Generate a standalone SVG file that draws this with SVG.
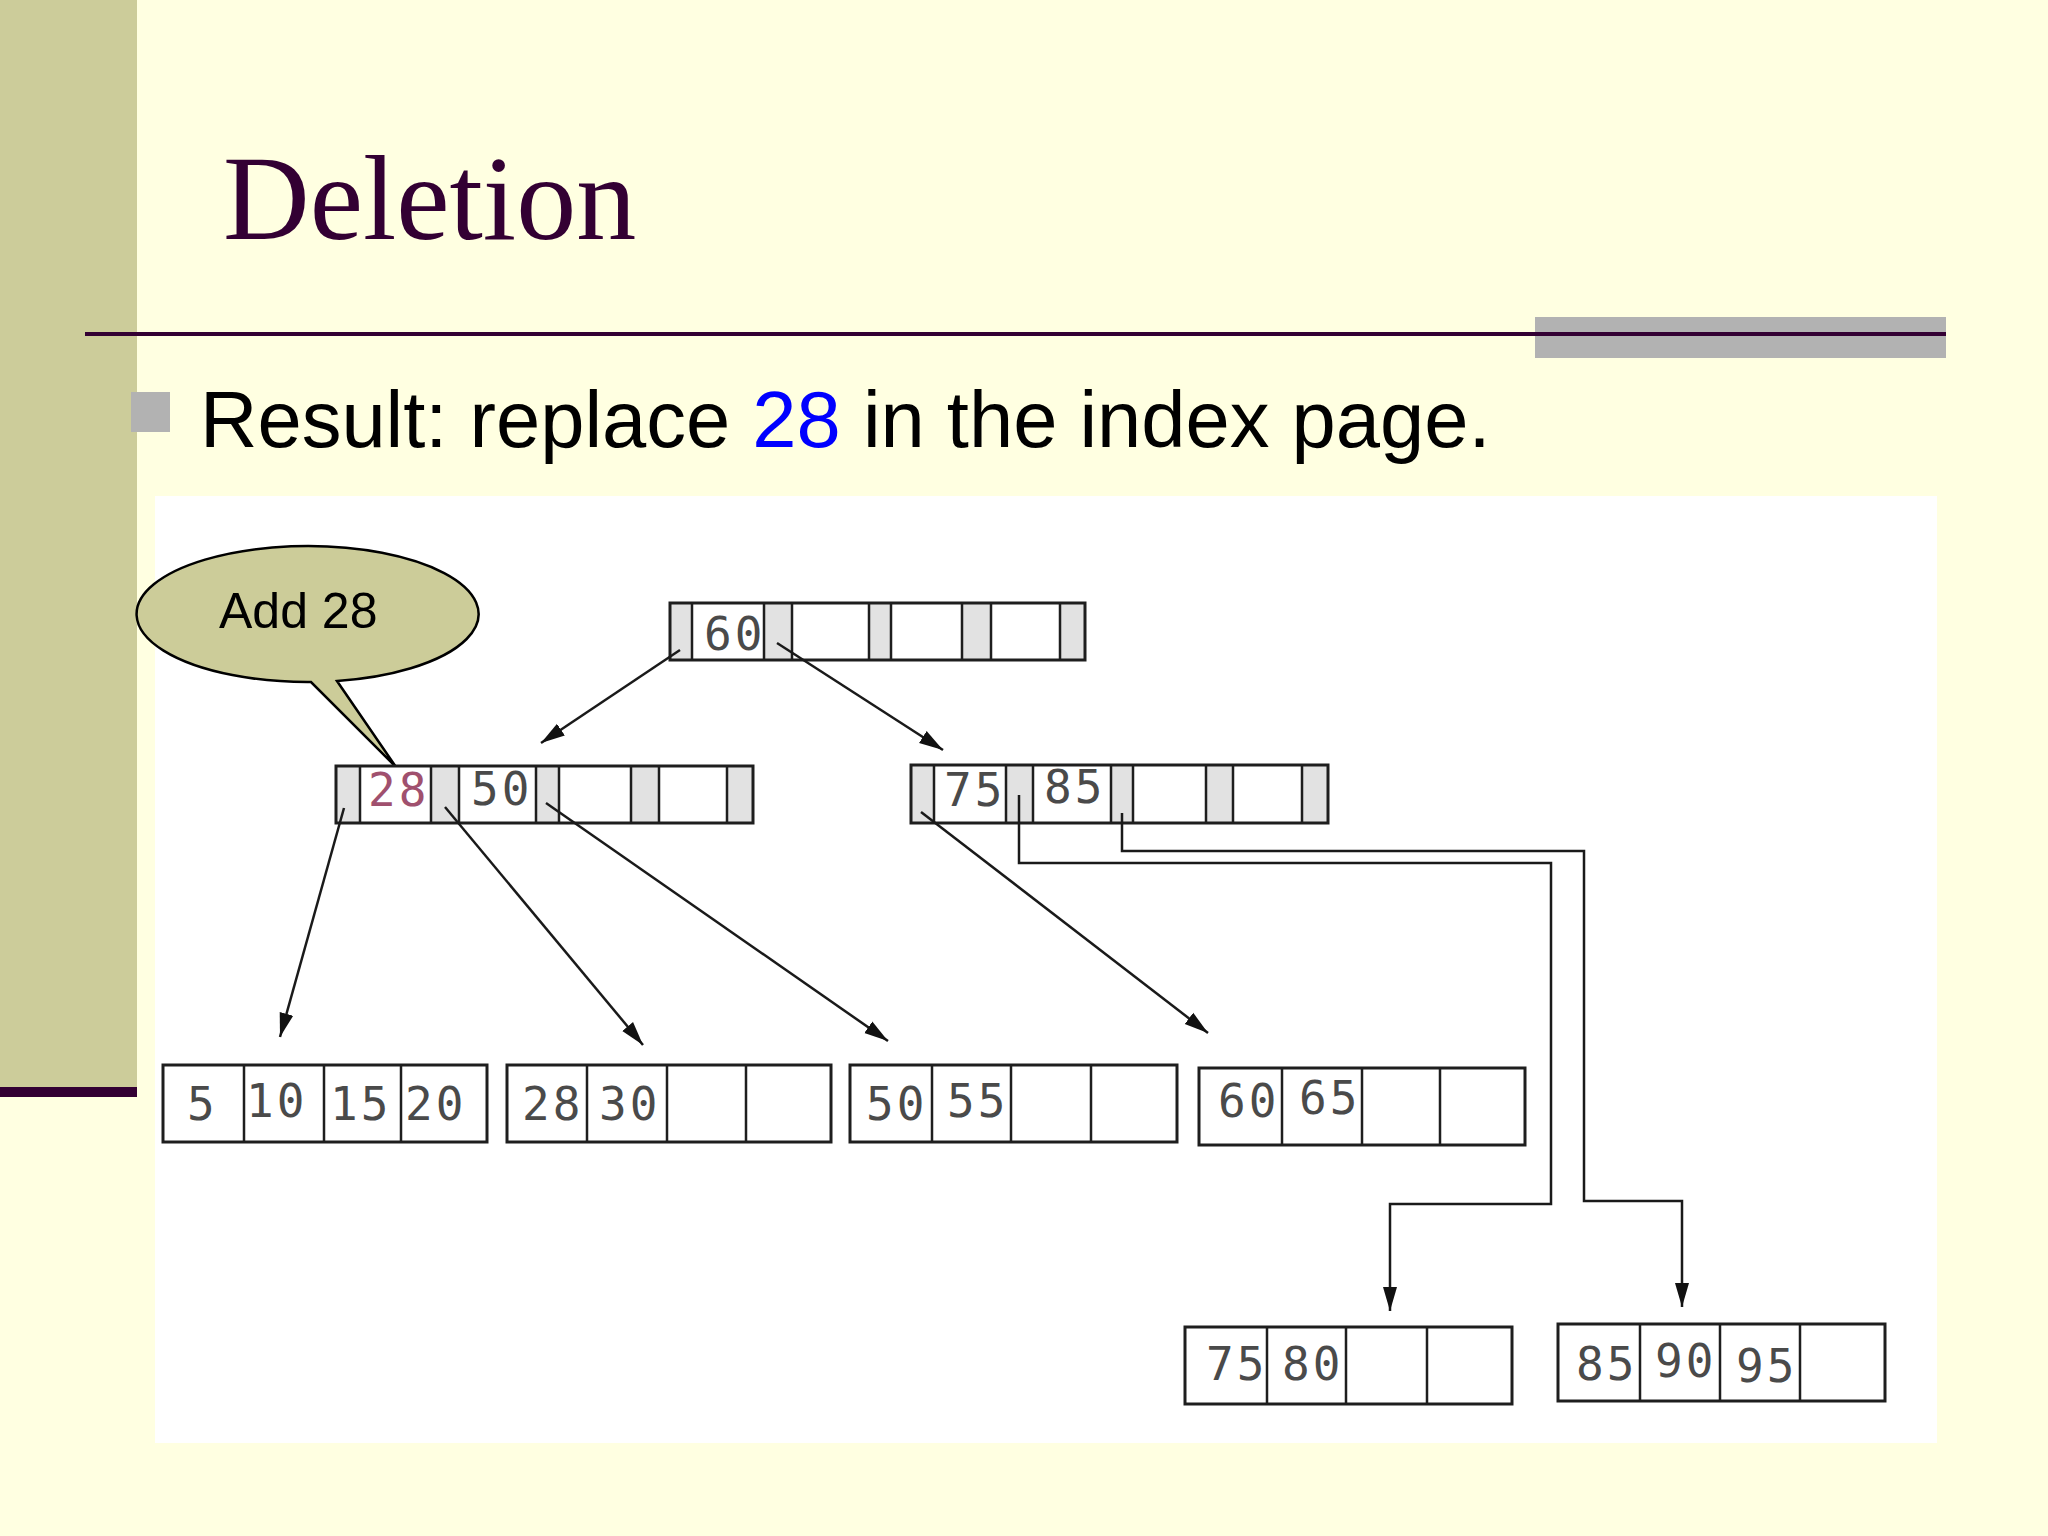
<svg xmlns="http://www.w3.org/2000/svg" width="2048" height="1536" viewBox="0 0 2048 1536">
<defs>
<style>
.cell{fill:#ffffff;stroke:none}
.ptr{fill:#e2e2e2;stroke:none}
.frame{fill:none;stroke:#1e1e1e;stroke-width:3}
.div{stroke:#1e1e1e;stroke-width:2.5}
.key{font-family:"DejaVu Sans Mono","Liberation Mono",monospace;font-size:46px;fill:#4a4a4a;letter-spacing:3px}
.conn{fill:none;stroke:#1a1a1a;stroke-width:2.5}
</style>
<marker id="ah" markerUnits="userSpaceOnUse" markerWidth="26" markerHeight="16" refX="24" refY="8" orient="auto">
<path d="M0,1 L24,8 L0,15 Z" fill="#111"/>
</marker>
</defs>
<rect width="2048" height="1536" fill="#ffffe1"/>
<rect x="0" y="0" width="137" height="1088" fill="#cccc9a"/>
<rect x="0" y="1087" width="137" height="10" fill="#330033"/>
<rect x="1535" y="317" width="411" height="41" fill="#b2b2b2"/>
<rect x="85" y="332" width="1861" height="4" fill="#330033"/>
<text x="223" y="239" font-family="Liberation Serif, serif" font-size="120" fill="#330033">Deletion</text>
<rect x="131" y="392" width="39" height="40" fill="#b2b2b2"/>
<text x="200" y="447" font-family="Liberation Sans, Arial, sans-serif" font-size="79.5" fill="#000000">Result: replace <tspan fill="#0000ff">28</tspan> in the index page.</text>
<rect x="155" y="496" width="1782" height="947" fill="#ffffff"/>

<g id="callout">
<path d="M337,681 A171,68 0 1 0 311,682 L396,767 Z" fill="#cccc99" stroke="#000" stroke-width="2.5" stroke-linejoin="miter"/>
<text x="219" y="628" font-family="Liberation Sans, Arial, sans-serif" font-size="50" fill="#000">Add 28</text>
</g>

<g id="root">
<rect class="cell" x="670" y="603" width="415" height="57"/>
<rect class="ptr" x="670" y="603" width="22" height="57"/>
<rect class="ptr" x="764" y="603" width="28" height="57"/>
<rect class="ptr" x="869" y="603" width="22" height="57"/>
<rect class="ptr" x="962" y="603" width="29" height="57"/>
<rect class="ptr" x="1060" y="603" width="25" height="57"/>
<rect class="frame" x="670" y="603" width="415" height="57"/>
<path class="div" d="M692,603V660M764,603V660M792,603V660M869,603V660M891,603V660M962,603V660M991,603V660M1060,603V660"/>
<text class="key" x="704" y="650">60</text>
</g>

<g id="index-left">
<rect class="cell" x="336" y="766" width="417" height="57"/>
<rect class="ptr" x="336" y="766" width="24" height="57"/>
<rect class="ptr" x="431" y="766" width="28" height="57"/>
<rect class="ptr" x="536" y="766" width="23" height="57"/>
<rect class="ptr" x="631" y="766" width="28" height="57"/>
<rect class="ptr" x="727" y="766" width="26" height="57"/>
<rect class="frame" x="336" y="766" width="417" height="57"/>
<path class="div" d="M360,766V823M431,766V823M459,766V823M536,766V823M559,766V823M631,766V823M659,766V823M727,766V823"/>
<text class="key" x="368" y="806" style="fill:#a0506e">28</text>
<text class="key" x="471" y="805">50</text>
</g>

<g id="index-right">
<rect class="cell" x="911" y="765" width="417" height="58"/>
<rect class="ptr" x="911" y="765" width="23" height="58"/>
<rect class="ptr" x="1006" y="765" width="27" height="58"/>
<rect class="ptr" x="1111" y="765" width="22" height="58"/>
<rect class="ptr" x="1206" y="765" width="27" height="58"/>
<rect class="ptr" x="1302" y="765" width="26" height="58"/>
<rect class="frame" x="911" y="765" width="417" height="58"/>
<path class="div" d="M934,765V823M1006,765V823M1033,765V823M1111,765V823M1133,765V823M1206,765V823M1233,765V823M1302,765V823"/>
<text class="key" x="944" y="806">75</text>
<text class="key" x="1044" y="803">85</text>
</g>

<g id="leaf-1">
<rect class="cell" x="163" y="1065" width="324" height="77"/>
<rect class="frame" x="163" y="1065" width="324" height="77"/>
<path class="div" d="M244,1065V1142M324,1065V1142M401,1065V1142"/>
<text class="key" x="187" y="1120">5</text>
<text class="key" x="246" y="1117">10</text>
<text class="key" x="330" y="1120">15</text>
<text class="key" x="405" y="1120">20</text>
</g>

<g id="leaf-2">
<rect class="cell" x="507" y="1065" width="324" height="77"/>
<rect class="frame" x="507" y="1065" width="324" height="77"/>
<path class="div" d="M587,1065V1142M667,1065V1142M746,1065V1142"/>
<text class="key" x="522" y="1120">28</text>
<text class="key" x="599" y="1120">30</text>
</g>

<g id="leaf-3">
<rect class="cell" x="850" y="1065" width="327" height="77"/>
<rect class="frame" x="850" y="1065" width="327" height="77"/>
<path class="div" d="M932,1065V1142M1011,1065V1142M1091,1065V1142"/>
<text class="key" x="866" y="1120">50</text>
<text class="key" x="947" y="1117">55</text>
</g>

<g id="leaf-4">
<rect class="cell" x="1199" y="1068" width="326" height="77"/>
<rect class="frame" x="1199" y="1068" width="326" height="77"/>
<path class="div" d="M1282,1068V1145M1362,1068V1145M1440,1068V1145"/>
<text class="key" x="1218" y="1117">60</text>
<text class="key" x="1299" y="1114">65</text>
</g>

<g id="leaf-5">
<rect class="cell" x="1185" y="1327" width="327" height="77"/>
<rect class="frame" x="1185" y="1327" width="327" height="77"/>
<path class="div" d="M1267,1327V1404M1346,1327V1404M1427,1327V1404"/>
<text class="key" x="1206" y="1380">75</text>
<text class="key" x="1282" y="1380">80</text>
</g>

<g id="leaf-6">
<rect class="cell" x="1558" y="1324" width="327" height="77"/>
<rect class="frame" x="1558" y="1324" width="327" height="77"/>
<path class="div" d="M1640,1324V1401M1720,1324V1401M1800,1324V1401"/>
<text class="key" x="1576" y="1380">85</text>
<text class="key" x="1655" y="1377">90</text>
<text class="key" x="1736" y="1382">95</text>
</g>

<g id="connectors">
<line class="conn" x1="680" y1="650" x2="541" y2="743" marker-end="url(#ah)"/>
<line class="conn" x1="777" y1="643" x2="943" y2="750" marker-end="url(#ah)"/>
<line class="conn" x1="344" y1="808" x2="280" y2="1037" marker-end="url(#ah)"/>
<line class="conn" x1="445" y1="807" x2="643" y2="1045" marker-end="url(#ah)"/>
<line class="conn" x1="546" y1="803" x2="888" y2="1041" marker-end="url(#ah)"/>
<line class="conn" x1="921" y1="812" x2="1208" y2="1033" marker-end="url(#ah)"/>
<polyline class="conn" points="1019,795 1019,863 1551,863 1551,1204 1390,1204 1390,1311" marker-end="url(#ah)"/>
<polyline class="conn" points="1122,813 1122,851 1584,851 1584,1201 1682,1201 1682,1307" marker-end="url(#ah)"/>
</g>
</svg>
